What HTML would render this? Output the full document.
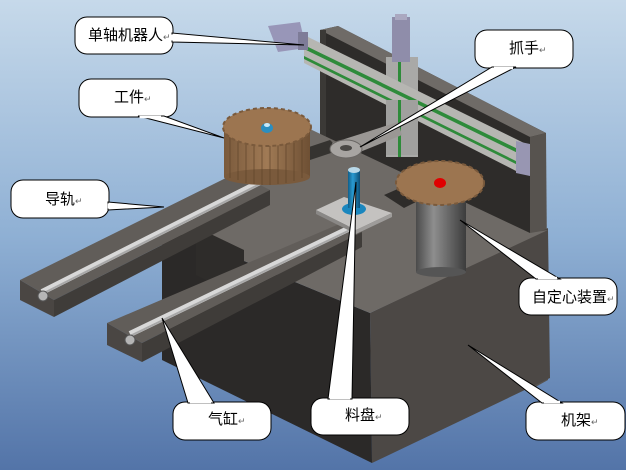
<!DOCTYPE html>
<html><head><meta charset="utf-8"><style>
html,body{margin:0;padding:0;width:626px;height:470px;overflow:hidden}
svg{display:block}
text{font-family:"Liberation Sans","Noto Sans CJK SC",sans-serif}
</style></head><body>
<svg width="626" height="470" viewBox="0 0 626 470" xmlns="http://www.w3.org/2000/svg">
<defs>
<linearGradient id="bg" x1="0" y1="0" x2="0" y2="1">
<stop offset="0" stop-color="#c6d9ea"/><stop offset="0.5" stop-color="#8fb0d4"/><stop offset="1" stop-color="#5374a8"/>
</linearGradient>
<linearGradient id="cyl" x1="0" y1="0" x2="1" y2="0">
<stop offset="0" stop-color="#4a4a4a"/><stop offset="0.35" stop-color="#8e8e8e"/><stop offset="1" stop-color="#3c3c3c"/>
</linearGradient>
<linearGradient id="blue" x1="0" y1="0" x2="1" y2="0">
<stop offset="0" stop-color="#0f5e8a"/><stop offset="0.4" stop-color="#2a9ad0"/><stop offset="1" stop-color="#0c4f78"/>
</linearGradient>
<linearGradient id="gear" x1="0" y1="0" x2="1" y2="0">
<stop offset="0" stop-color="#7a5a3c"/><stop offset="0.5" stop-color="#a07a55"/><stop offset="1" stop-color="#6e5034"/>
</linearGradient>
</defs>
<rect width="626" height="470" fill="url(#bg)"/>

<!-- back wall -->
<polygon points="320,30 338,26 546,133 546,380 530,385 320,230" fill="#2e2c2a"/>
<polygon points="320,30 338,26 546,133 530,137" fill="#6f6b67"/>
<polygon points="530,137 546,133 548,380 530,390" fill="#57534f"/>
<rect x="320" y="30" width="6" height="110" fill="#3b3936"/>

<!-- body right face -->
<polygon points="370,313 548,228 550,378 372,463" fill="#4c4845"/>
<!-- body front-left face -->
<polygon points="162,227 370,313 372,463 162,360" fill="#2b2928"/>
<!-- top surface -->
<polygon points="312,130 530,233 548,230 370,313 162,227 236,180 236,150" fill="#6e6a66"/>
<!-- notch on top -->
<polygon points="196,227 244,250 244,300 196,275" fill="#2e2c2a"/>
<polygon points="384,195 400,188 420,200 404,208" fill="#2e2c2a"/>
<polygon points="300,150 330,140 340,150 310,160" fill="#353330"/>

<!-- rail 1 -->
<polygon points="20,280 236,173 270,190 54,300" fill="#615d59"/>
<polygon points="20,280 54,300 54,317 20,300" fill="#4a4643"/>
<polygon points="54,300 270,190 270,205 54,317" fill="#3f3c39"/>
<line x1="42" y1="292" x2="262" y2="181" stroke="#d8d8d8" stroke-width="6"/>
<line x1="42" y1="294" x2="262" y2="183" stroke="#a8a8a8" stroke-width="2"/>
<circle cx="43" cy="296" r="5" fill="#b5b5b5" stroke="#555" stroke-width="1"/>

<!-- rail 2 -->
<polygon points="107,323 344,222 362,232 142,343" fill="#615d59"/>
<polygon points="107,323 142,343 142,362 107,345" fill="#4a4643"/>
<polygon points="142,343 362,232 362,247 142,362" fill="#3f3c39"/>
<line x1="130" y1="334" x2="350" y2="228" stroke="#d8d8d8" stroke-width="6"/>
<line x1="130" y1="336" x2="350" y2="230" stroke="#a8a8a8" stroke-width="2"/>
<circle cx="130" cy="340" r="5" fill="#b5b5b5" stroke="#555" stroke-width="1"/>

<!-- gantry vertical column + motor -->
<rect x="386" y="57" width="32" height="100" fill="#a9a9a7"/>
<rect x="398" y="57" width="3" height="100" fill="#2e8b3a"/>
<rect x="392" y="17" width="18" height="45" fill="#8f8daa"/>
<rect x="395" y="14" width="12" height="6" fill="#aaa8c0"/>
<!-- gantry beam -->
<polygon points="304,35 524,143 520,173 304,63" fill="#b6b6b2"/>
<polygon points="304,45 524,152 524,156 304,49" fill="#2e8b3a"/>
<polygon points="304,56 522,164 522,167 304,59" fill="#2e8b3a"/>
<polygon points="516,141 530,144 530,176 516,173" fill="#9896b2"/>
<polygon points="268,26 300,22 306,48 278,52" fill="#9896b8"/>
<rect x="298" y="32" width="10" height="18" fill="#7e7c98"/>
<rect x="386" y="100" width="32" height="55" fill="#a0a09e"/>
<rect x="398" y="100" width="3" height="55" fill="#2e8b3a"/>

<!-- gripper arm -->
<polygon points="332,143 398,122 402,135 345,158" fill="#9a9794"/>
<ellipse cx="346" cy="149" rx="16" ry="9" fill="#a8a5a2" stroke="#6a6764" stroke-width="1"/>
<ellipse cx="346" cy="148" rx="6" ry="3" fill="#4a4845"/>

<!-- workpiece gear -->
<rect x="224" y="127" width="86" height="50" fill="url(#gear)"/>
<ellipse cx="267" cy="177" rx="43" ry="8" fill="#7a5a3c"/>
<g stroke="#5e4329" stroke-width="1" opacity="0.7">
<line x1="230" y1="135" x2="230" y2="178"/><line x1="238" y1="135" x2="238" y2="180"/><line x1="246" y1="137" x2="246" y2="183"/><line x1="254" y1="137" x2="254" y2="184"/><line x1="262" y1="137" x2="262" y2="185"/><line x1="270" y1="137" x2="270" y2="185"/><line x1="278" y1="137" x2="278" y2="184"/><line x1="286" y1="137" x2="286" y2="183"/><line x1="294" y1="135" x2="294" y2="181"/><line x1="302" y1="135" x2="302" y2="178"/>
</g>
<ellipse cx="267" cy="127" rx="44" ry="19" fill="#9c7550" stroke="#7a5a3c" stroke-dasharray="4 3" stroke-width="2"/>
<ellipse cx="267" cy="128" rx="6" ry="5" fill="#2a8ec0"/>
<ellipse cx="267" cy="125" rx="3" ry="2" fill="#c8e8f8"/>

<!-- self-centering device -->
<rect x="416" y="198" width="50" height="74" fill="url(#cyl)"/>
<ellipse cx="441" cy="272" rx="25" ry="5" fill="#555"/>
<ellipse cx="440" cy="183" rx="44" ry="22" fill="#9c7550" stroke="#7a5a3c" stroke-dasharray="4 3" stroke-width="2"/>
<ellipse cx="440" cy="183" rx="6" ry="5" fill="#e00000"/>

<!-- material tray -->
<polygon points="316,210 344,197 392,213 356,230" fill="#c4c2c0"/>
<polygon points="316,210 356,230 356,234 316,214" fill="#8a8886"/>
<polygon points="356,230 392,213 392,217 356,234" fill="#9e9c9a"/>
<ellipse cx="354" cy="209" rx="12" ry="6" fill="#1a86be"/>
<rect x="348" y="170" width="12" height="38" fill="url(#blue)"/>
<ellipse cx="354" cy="170" rx="6" ry="3" fill="#b8d8e8"/>

<!-- callouts -->
<g fill="#fff" stroke="#000" stroke-width="1">
<rect x="75" y="17" width="98" height="37" rx="12"/>
<polygon points="172,33 172,42 304,45"/>
<rect x="79" y="79" width="98" height="38" rx="12"/>
<polygon points="138,116 164,116 224,138"/>
<rect x="475" y="30" width="98" height="38" rx="12"/>
<polygon points="492,67 516,67 360,147"/>
<rect x="11" y="180" width="98" height="38" rx="12"/>
<polygon points="108,202 108,210 164,207"/>
<rect x="519" y="278" width="98" height="37" rx="12"/>
<polygon points="536,279 560,279 460,220"/>
<rect x="173" y="402" width="98" height="38" rx="12"/>
<polygon points="188,403 214,403 162,318"/>
<rect x="311" y="398" width="98" height="37" rx="12"/>
<polygon points="328,399 352,399 356,182"/>
<rect x="526" y="402" width="99" height="38" rx="12"/>
<polygon points="542,403 562,403 468,345"/>
</g>
<g stroke="#fff" stroke-width="2.5">
<line x1="172" y1="34.5" x2="172" y2="40.5"/>
<line x1="139.5" y1="117" x2="161" y2="117"/>
<line x1="494" y1="68" x2="513" y2="68"/>
<line x1="109" y1="203.5" x2="109" y2="208.5"/>
<line x1="538" y1="278" x2="557" y2="278"/>
<line x1="190" y1="402" x2="211" y2="402"/>
<line x1="330" y1="398" x2="350" y2="398"/>
<line x1="544" y1="402" x2="560" y2="402"/>
</g>
<g font-size="15" fill="#000">
<text x="88" y="40">单轴机器人<tspan font-size="9" fill="#666">↵</tspan></text>
<text x="114" y="102">工件<tspan font-size="9" fill="#666">↵</tspan></text>
<text x="509" y="53">抓手<tspan font-size="9" fill="#666">↵</tspan></text>
<text x="45" y="204">导轨<tspan font-size="9" fill="#666">↵</tspan></text>
<text x="532" y="302">自定心装置<tspan font-size="9" fill="#666">↵</tspan></text>
<text x="208" y="424">气缸<tspan font-size="9" fill="#666">↵</tspan></text>
<text x="345" y="420">料盘<tspan font-size="9" fill="#666">↵</tspan></text>
<text x="561" y="425">机架<tspan font-size="9" fill="#666">↵</tspan></text>
</g>
</svg>
</body></html>
